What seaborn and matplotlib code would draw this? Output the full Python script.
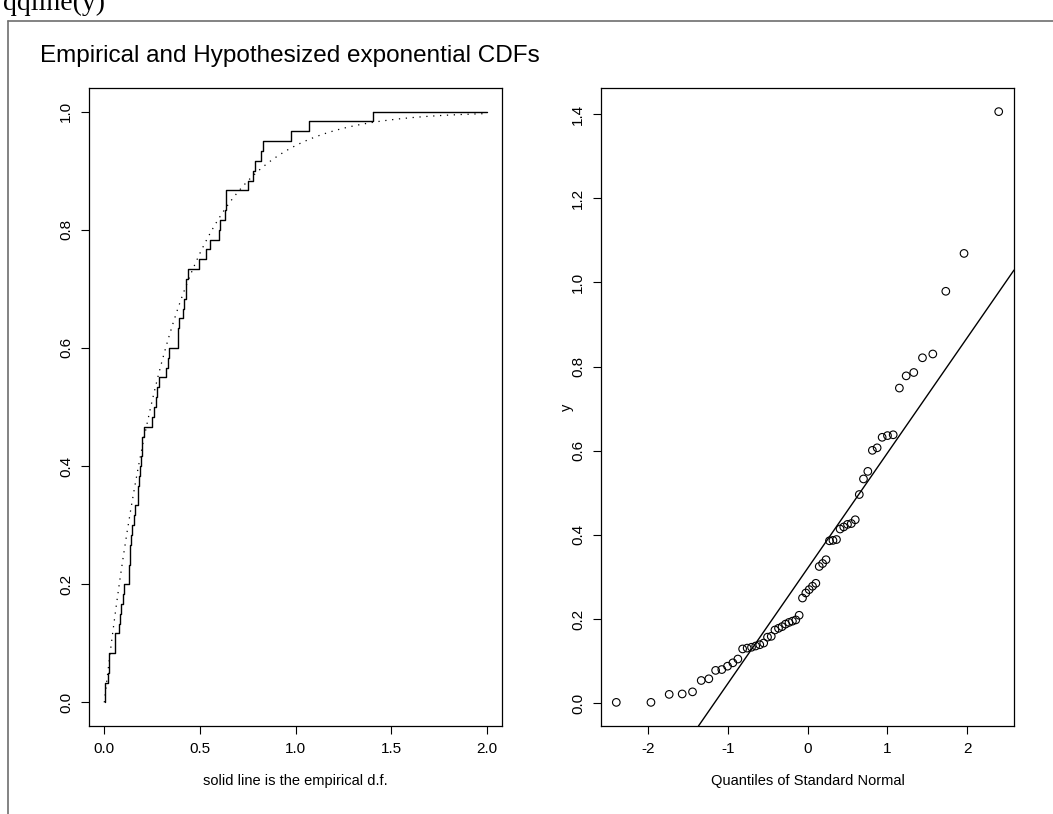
import numpy as np
import matplotlib.pyplot as plt
import matplotlib.lines as mlines
import seaborn as sns
from statistics import NormalDist

y = np.array([0.002, 0.002, 0.021, 0.022, 0.027, 0.054, 0.058, 0.078, 0.080, 0.088,
              0.096, 0.105, 0.129, 0.131, 0.133, 0.136, 0.139, 0.143, 0.157, 0.159,
              0.174, 0.178, 0.182, 0.188, 0.192, 0.195, 0.198, 0.209, 0.250, 0.262,
              0.270, 0.278, 0.285, 0.325, 0.332, 0.341, 0.386, 0.387, 0.389, 0.414,
              0.419, 0.425, 0.427, 0.436, 0.496, 0.533, 0.551, 0.601, 0.607, 0.632,
              0.636, 0.638, 0.749, 0.778, 0.786, 0.821, 0.830, 0.979, 1.069, 1.406])
x_end = 2.0
cdf_xticks = [0.0, 0.5, 1.0, 1.5, 2.0]
cdf_yticks = [0.0, 0.2, 0.4, 0.6, 0.8, 1.0]
qq_xticks = [-2, -1, 0, 1, 2]
qq_yticks = [0.0, 0.2, 0.4, 0.6, 0.8, 1.0, 1.2, 1.4]

sns.set_style("ticks", {"axes.edgecolor": "black", "xtick.color": "black",
                        "ytick.color": "black", "text.color": "black",
                        "axes.labelcolor": "black"})
plt.rcParams['font.family'] = ['Liberation Sans', 'DejaVu Sans']
plt.rcParams['font.size'] = 10.5
plt.rcParams['axes.linewidth'] = 0.9


def rlim(lo, hi):
    # R style 4% padding
    d = (hi - lo) * 0.04
    return lo - d, hi + d


fig = plt.figure(figsize=(10.53, 8.14), dpi=100)
W, H = 1053, 814
ax1 = fig.add_axes([89 / W, 88 / H, 413 / W, 638 / H])
ax2 = fig.add_axes([601 / W, 88 / H, 413 / W, 638 / H])

# left: empirical vs exponential cdf
sns.ecdfplot(x=y, ax=ax1, color="black", lw=1.0)
ax1.plot([y.max(), x_end], [1, 1], color="black", lw=1.0)
xx = np.linspace(0, x_end, 400)
ax1.plot(xx, 1 - np.exp(-xx / y.mean()), color="black", lw=0.9,
         linestyle=(0, (1, 4.5)))
ax1.set_xlim(*rlim(0, x_end))
ax1.set_ylim(*rlim(0, 1))
ax1.set_xticks(cdf_xticks)
ax1.set_xticklabels([f"{v:.1f}" for v in cdf_xticks])
ax1.set_yticks(cdf_yticks)
ax1.set_yticklabels([f"{v:.1f}" for v in cdf_yticks], rotation=90, va="center")
ax1.set_ylabel("")
ax1.set_xlabel("solid line is the empirical d.f.", labelpad=13)

# right: normal QQ plot
n = len(y)
q = np.array([NormalDist().inv_cdf((i - 0.5) / n) for i in range(1, n + 1)])
sns.scatterplot(x=q, y=y, ax=ax2, s=30, facecolor="none", edgecolor="black",
                linewidth=0.8)
q1, q3 = np.percentile(y, [25, 75])
z = NormalDist().inv_cdf(0.75)
slope = (q3 - q1) / (2 * z)
ax2.axline((0, q1 + z * slope), slope=slope, color="black", lw=1.0)
ax2.set_xlim(*rlim(q.min(), q.max()))
ax2.set_ylim(*rlim(y.min(), y.max()))
ax2.set_xticks(qq_xticks)
ax2.set_xticklabels([str(v) for v in qq_xticks])
ax2.set_yticks(qq_yticks)
ax2.set_yticklabels([f"{v:.1f}" for v in qq_yticks], rotation=90, va="center")
ax2.set_xlabel("Quantiles of Standard Normal", labelpad=13)
ax2.set_ylabel("y", labelpad=-2)

for ax in (ax1, ax2):
    ax.tick_params(direction="out", length=5.5, width=0.8, labelsize=11, pad=6)
    for s in ax.spines.values():
        s.set_visible(True)
        s.set_color("black")

# window frame bits
fig.add_artist(mlines.Line2D([8 / W, 1], [1 - 21 / H] * 2, color="#6e6e6e", lw=1.2))
fig.add_artist(mlines.Line2D([8 / W] * 2, [0, 1 - 21 / H], color="#6e6e6e", lw=1.2))
fig.text(3 / W, 1 - 10 / H, "qqline(y)", family=["Liberation Serif", "DejaVu Serif"],
         fontsize=20, va="baseline")
fig.text(40 / W, 1 - 62 / H, "Empirical and Hypothesized exponential CDFs",
         fontsize=17.5, va="baseline")

fig.savefig("out.png", dpi=100)
